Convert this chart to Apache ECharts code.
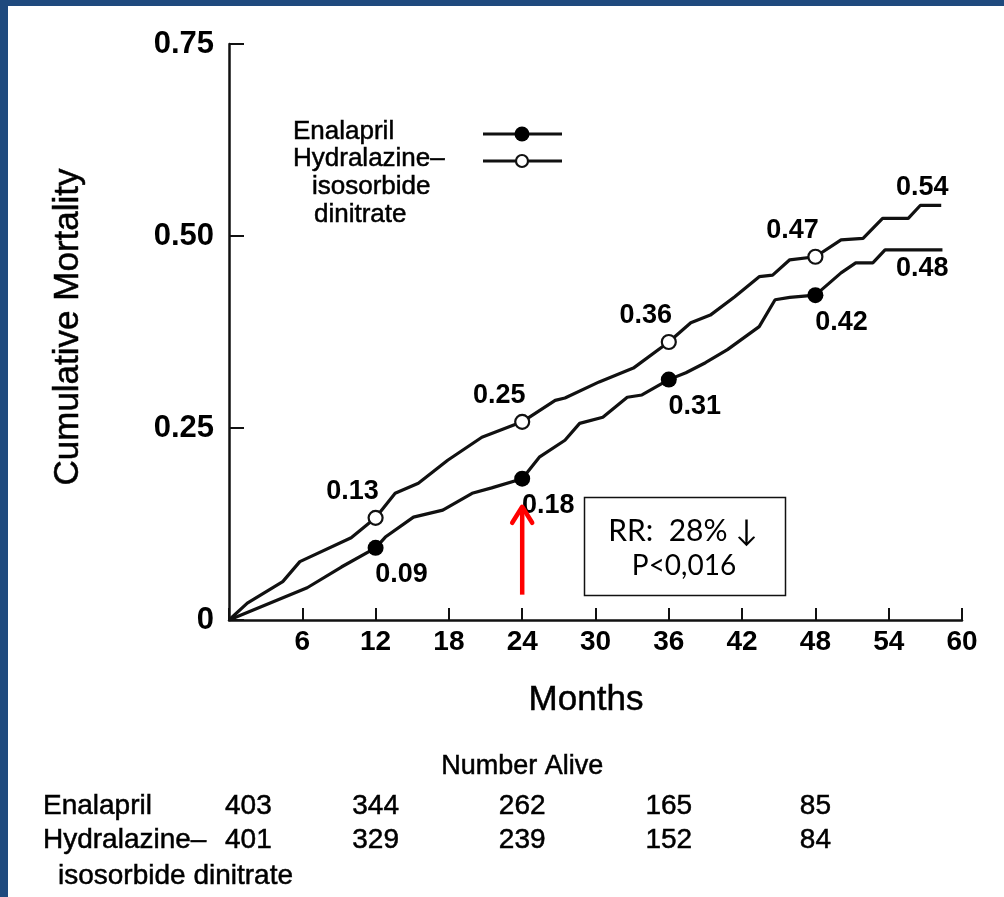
<!DOCTYPE html>
<html>
<head>
<meta charset="utf-8">
<script src="https://cdn.jsdelivr.net/npm/echarts@6/dist/echarts.min.js"></script>
<style>
html,body{margin:0;padding:0;background:#fff;}
#wrap{position:relative;width:1004px;height:897px;background:#fff;}
#chart{position:absolute;left:0;top:0;width:1004px;height:897px;}
</style>
</head>
<body>
<div id="wrap"><div id="chart"></div></div>
<script>
// ---- data ----
var xTicks = [6, 12, 18, 24, 30, 36, 42, 48, 54, 60];
var yTicks = ['0', '0.25', '0.50', '0.75'];

var enalapril = [
  [0, 0], [6.4, 0.042], [9.2, 0.069], [12, 0.094], [12.8, 0.108], [15.1, 0.134],
  [17.5, 0.143], [19.9, 0.165], [21.5, 0.172], [24, 0.184], [25.4, 0.212],
  [27.5, 0.234], [28.7, 0.256], [30.6, 0.264], [32.6, 0.290], [33.8, 0.293],
  [36, 0.313], [37.4, 0.322], [39.0, 0.335], [40.8, 0.352], [43.4, 0.382],
  [44.7, 0.417], [45.9, 0.420], [48, 0.423], [50.1, 0.452], [51.3, 0.465],
  [52.7, 0.465], [53.7, 0.482], [58.4, 0.482]
];
var hydralazine = [
  [0, 0], [1.5, 0.022], [4.4, 0.050], [5.8, 0.076], [10.0, 0.107], [12, 0.133],
  [13.6, 0.165], [15.5, 0.178], [17.9, 0.208], [20.7, 0.238], [24, 0.258],
  [26.7, 0.286], [27.5, 0.289], [30.3, 0.310], [33.1, 0.328], [36, 0.362],
  [37.8, 0.387], [39.4, 0.397], [41.4, 0.421], [43.4, 0.447], [44.5, 0.449],
  [45.9, 0.469], [48, 0.473], [50.1, 0.495], [51.9, 0.497], [53.5, 0.523],
  [55.6, 0.523], [56.6, 0.540], [58.3, 0.540]
];
var markMonths = [12, 24, 36, 48];
var enalaprilMarks = [0.094, 0.184, 0.313, 0.423];
var enalaprilMarkLabels = ['0.09', '0.18', '0.31', '0.42'];
var hydralazineMarks = [0.133, 0.258, 0.362, 0.473];
var hydralazineMarkLabels = ['0.13', '0.25', '0.36', '0.47'];
var endLabelMonth = 58.3;
var enalaprilEnd = 0.482, enalaprilEndLabel = '0.48';
var hydralazineEnd = 0.540, hydralazineEndLabel = '0.54';

var aliveMonths = [0, 12, 24, 36, 48];
var enalaprilAlive = [403, 344, 262, 165, 85];
var hydralazineAlive = [401, 329, 239, 152, 84];

var arrowMonth = 24, arrowFrom = 0.033, arrowTo = 0.150;

// ---- chart ----
var FONT = '"Liberation Sans", Arial, Helvetica, sans-serif';
var chart = echarts.init(document.getElementById('chart'), null, {renderer: 'canvas'});

function pairs(xs, ys) { return xs.map(function (x, i) { return [x, ys[i]]; }); }

var valueLabel = {color: '#000', fontFamily: FONT, fontSize: 27, fontWeight: 'bold', opacity: 1};

var option = {
  animation: false,
  backgroundColor: '#ffffff',
  grid: {left: 229, right: 42, top: 44, bottom: 277, containLabel: false},
  xAxis: {
    type: 'value', min: 0, max: 60, interval: 6,
    axisLine: {show: true, lineStyle: {color: '#111', width: 2.5}},
    axisTick: {show: true, inside: true, length: 12, lineStyle: {color: '#111', width: 2}},
    axisLabel: {
      color: '#000', fontFamily: FONT, fontSize: 28, fontWeight: 'bold', margin: 8,
      formatter: function (v) { return xTicks.indexOf(v) >= 0 ? String(v) : ''; }
    },
    splitLine: {show: false}
  },
  yAxis: {
    type: 'value', min: 0, max: 0.75, interval: 0.25,
    axisLine: {show: true, lineStyle: {color: '#111', width: 2.5}},
    axisTick: {show: true, inside: true, length: 15, lineStyle: {color: '#111', width: 2}},
    axisLabel: {
      color: '#000', fontFamily: FONT, fontSize: 31, fontWeight: 'bold', margin: 15,
      formatter: function (v) { return yTicks[Math.round(v / 0.25)]; }
    },
    splitLine: {show: false}
  },
  series: [
    {
      name: 'Hydralazine', type: 'line', data: hydralazine, symbol: 'none',
      lineStyle: {color: '#111', width: 3.2}, z: 2
    },
    {
      name: 'Enalapril', type: 'line', data: enalapril, symbol: 'none',
      lineStyle: {color: '#111', width: 3.2}, z: 2
    },
    {
      name: 'HydMarks', type: 'scatter', data: pairs(markMonths, hydralazineMarks),
      symbol: 'circle', symbolSize: 14,
      itemStyle: {color: '#fff', borderColor: '#111', borderWidth: 2.2, opacity: 1},
      label: Object.assign({
        show: true, position: 'inside', offset: [-23, -26],
        formatter: function (p) { return hydralazineMarkLabels[p.dataIndex]; }
      }, valueLabel), z: 4
    },
    {
      name: 'EnaMarks', type: 'scatter', data: pairs(markMonths, enalaprilMarks),
      symbol: 'circle', symbolSize: 16,
      itemStyle: {color: '#000', borderColor: '#000', borderWidth: 0, opacity: 1},
      label: Object.assign({
        show: true, position: 'inside', offset: [26, 27],
        formatter: function (p) { return enalaprilMarkLabels[p.dataIndex]; }
      }, valueLabel), z: 4
    },
    {
      name: 'EndLabels', type: 'scatter', symbolSize: 0, silent: true,
      itemStyle: {opacity: 1},
      data: [
        {value: [endLabelMonth, hydralazineEnd], label: {offset: [-19, -18], formatter: hydralazineEndLabel}},
        {value: [endLabelMonth, enalaprilEnd], label: {offset: [-19, 19], formatter: enalaprilEndLabel}}
      ],
      label: Object.assign({show: true, position: 'inside'}, valueLabel), z: 4
    }
  ]
};
chart.setOption(option);

// ---- annotations derived from axes ----
function px(x, y) { return chart.convertToPixel({gridIndex: 0}, [x, y]); }
var g = [];
function txt(x, y, s, size, extra) {
  var st = {text: s, font: size + 'px ' + FONT, fill: '#000', stroke: '#000', lineWidth: 0.5, verticalAlign: 'middle'};
  if (extra) for (var k in extra) st[k] = extra[k];
  return {type: 'text', x: x, y: y, style: st};
}

// blue frame
g.push({type: 'rect', shape: {x: 0, y: 0, width: 1004, height: 6}, style: {fill: '#1f4a7e'}, z: 10});
g.push({type: 'rect', shape: {x: 0, y: 0, width: 8, height: 897}, style: {fill: '#1f4a7e'}, z: 10});

// axis titles
var yt = txt(0, 0, 'Cumulative Mortality', 35, {align: 'center'});
yt.x = 68; yt.y = 327; yt.rotation = Math.PI / 2;
g.push(yt);
g.push(txt(586, 700, 'Months', 35, {align: 'center'}));

// legend
g.push(txt(293, 132, 'Enalapril', 26));
g.push(txt(293, 159, 'Hydralazine\u2013', 26));
g.push(txt(312, 187, 'isosorbide', 26));
g.push(txt(314, 215, 'dinitrate', 26));
g.push({type: 'line', shape: {x1: 483, y1: 134, x2: 562, y2: 134}, style: {stroke: '#111', lineWidth: 3}});
g.push({type: 'circle', shape: {cx: 522, cy: 134, r: 7.5}, style: {fill: '#000'}});
g.push({type: 'line', shape: {x1: 483, y1: 161, x2: 562, y2: 161}, style: {stroke: '#111', lineWidth: 3}});
g.push({type: 'circle', shape: {cx: 522, cy: 161, r: 6}, style: {fill: '#fff', stroke: '#111', lineWidth: 2.2}, z: 2});

// red arrow
var a0 = px(arrowMonth, arrowFrom), a1 = px(arrowMonth, arrowTo);
g.push({type: 'line', shape: {x1: a0[0], y1: a0[1], x2: a1[0], y2: a1[1] + 3}, style: {stroke: '#ff0000', lineWidth: 4.5}, z: 5});
g.push({type: 'polyline', shape: {points: [[a1[0] - 10, a1[1] + 18], [a1[0], a1[1] + 2], [a1[0] + 10, a1[1] + 18]]},
  style: {stroke: '#ff0000', lineWidth: 4.5, fill: null, lineCap: 'round', lineJoin: 'round'}, z: 5});

// RR box
g.push({type: 'rect', shape: {x: 584.5, y: 497.5, width: 201, height: 98}, style: {fill: '#fff', stroke: '#111', lineWidth: 1.5}, z: 6});
g.push({type: 'text', x: 683, y: 531, style: {text: 'RR:  28% \u2193', font: '30px Lato, "Open Sans", "Noto Sans", sans-serif', fill: '#000', align: 'center', verticalAlign: 'middle'}, z: 7});
g.push({type: 'text', x: 684, y: 566, style: {text: 'P<0,016', font: '28px Lato, "Open Sans", "Noto Sans", sans-serif', fill: '#000', align: 'center', verticalAlign: 'middle'}, z: 7});

// Number alive table
g.push(txt(px(24, 0)[0], 767, 'Number Alive', 27, {align: 'center'}));
g.push(txt(43, 806, 'Enalapril', 28));
g.push(txt(43, 840, 'Hydralazine\u2013', 28));
g.push(txt(58, 876, 'isosorbide dinitrate', 28));
aliveMonths.forEach(function (m, i) {
  var xx = px(m, 0)[0];
  var al = i === 0 ? 'left' : 'center';
  if (i === 0) xx -= 4;
  g.push(txt(xx, 806, String(enalaprilAlive[i]), 28, {align: al}));
  g.push(txt(xx, 840, String(hydralazineAlive[i]), 28, {align: al}));
});

chart.setOption({graphic: {elements: g}});
</script>
</body>
</html>
